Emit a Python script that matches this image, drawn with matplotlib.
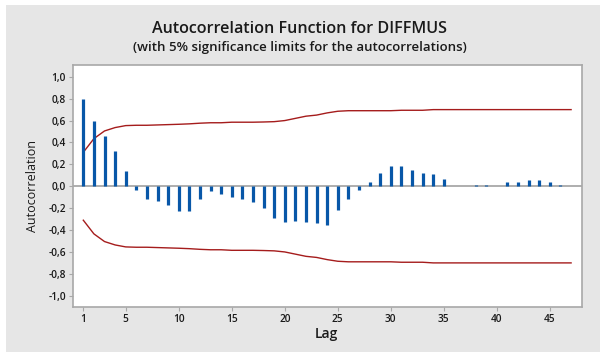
import matplotlib
matplotlib.use("Agg")
import matplotlib.pyplot as plt
from matplotlib.patches import Rectangle
from matplotlib.ticker import FuncFormatter

# --- ACF values ---
lags = list(range(1, 48))
acf = [0.795, 0.60, 0.457, 0.32, 0.14, -0.035, -0.114, -0.139, -0.172, -0.23,
       -0.23, -0.114, -0.047, -0.075, -0.096, -0.114, -0.148, -0.20, -0.29, -0.325,
       -0.315, -0.325, -0.34, -0.35, -0.215, -0.114, -0.035, 0.038, 0.12, 0.184,
       0.184, 0.151, 0.12, 0.11, 0.068, 0.002, 0.001, 0.012, 0.012, 0.002,
       0.035, 0.035, 0.053, 0.053, 0.035, 0.012, 0.0]

# 5% significance limit (upper; lower is the mirror)
limit = [0.31, 0.435, 0.505, 0.536, 0.554, 0.557, 0.557, 0.56, 0.563, 0.566,
         0.57, 0.576, 0.58, 0.58, 0.585, 0.585, 0.585, 0.587, 0.59, 0.60,
         0.62, 0.64, 0.65, 0.67, 0.685, 0.69, 0.69, 0.69, 0.69, 0.69,
         0.694, 0.694, 0.694, 0.70, 0.70, 0.70, 0.70, 0.70, 0.70, 0.70,
         0.70, 0.70, 0.70, 0.70, 0.70, 0.70, 0.70]

xticks = [1, 5, 10, 15, 20, 25, 30, 35, 40, 45]
yticks = [-1.0, -0.8, -0.6, -0.4, -0.2, 0.0, 0.2, 0.4, 0.6, 0.8, 1.0]

W, H = 600, 352
fig = plt.figure(figsize=(W / 100, H / 100), dpi=100, facecolor="white")
fig.patches.append(Rectangle((6 / W, 0), 1 - 6 / W, 1 - 5 / H, transform=fig.transFigure,
                             facecolor="#e6e6e6", edgecolor="none", zorder=-10))

ax = fig.add_axes([72.7 / W, 1 - 306.7 / H, (581.7 - 72.7) / W, (306.7 - 64.5) / H])
ax.set_facecolor("white")

red = "#a51c1c"
blue = "#0857a8"
grey = "#a8a8a8"

ax.axhline(0, color=grey, lw=1.3, zorder=1)
ax.vlines(lags, 0, acf, color=blue, lw=2.3, zorder=3)
ax.plot(lags, limit, color=red, lw=1.0, zorder=2)
ax.plot(lags, [-v for v in limit], color=red, lw=1.0, zorder=2)

ax.set_xlim(0, 48)
ax.set_ylim(-1.1, 1.112)
ax.set_xticks(xticks)
ax.set_yticks(yticks)
ax.yaxis.set_major_formatter(FuncFormatter(lambda v, p: f"{v:.1f}".replace(".", ",").replace("-0,0", "0,0")))

for s in ax.spines.values():
    s.set_color(grey)
    s.set_linewidth(1.2)
ax.tick_params(length=3, width=0.8, color=grey, labelsize=7.3, labelcolor="#1a1a1a", pad=2)
for lbl in ax.get_xticklabels() + ax.get_yticklabels():
    lbl.set_fontfamily("Open Sans")
    lbl.set_fontweight("semibold")

fig.text(0.5, 1 - 29 / H, "Autocorrelation Function for DIFFMUS", ha="center", va="center",
         fontsize=11.6, fontweight="semibold", family="Open Sans", color="#1a1a1a")
fig.text(0.5, 1 - 47 / H, "(with 5% significance limits for the autocorrelations)", ha="center",
         va="center", fontsize=9.5, fontweight="semibold", family="Open Sans", color="#1a1a1a")
fig.text(326.7 / W, 1 - 334 / H, "Lag", ha="center", va="center", fontsize=10,
         fontweight="semibold", family="Open Sans", color="#1a1a1a")
fig.text(33 / W, 1 - 186 / H, "Autocorrelation", ha="center", va="center", rotation=90,
         fontsize=9, family="Open Sans", color="#1a1a1a")

fig.savefig("out.png", dpi=100, facecolor=fig.get_facecolor())
